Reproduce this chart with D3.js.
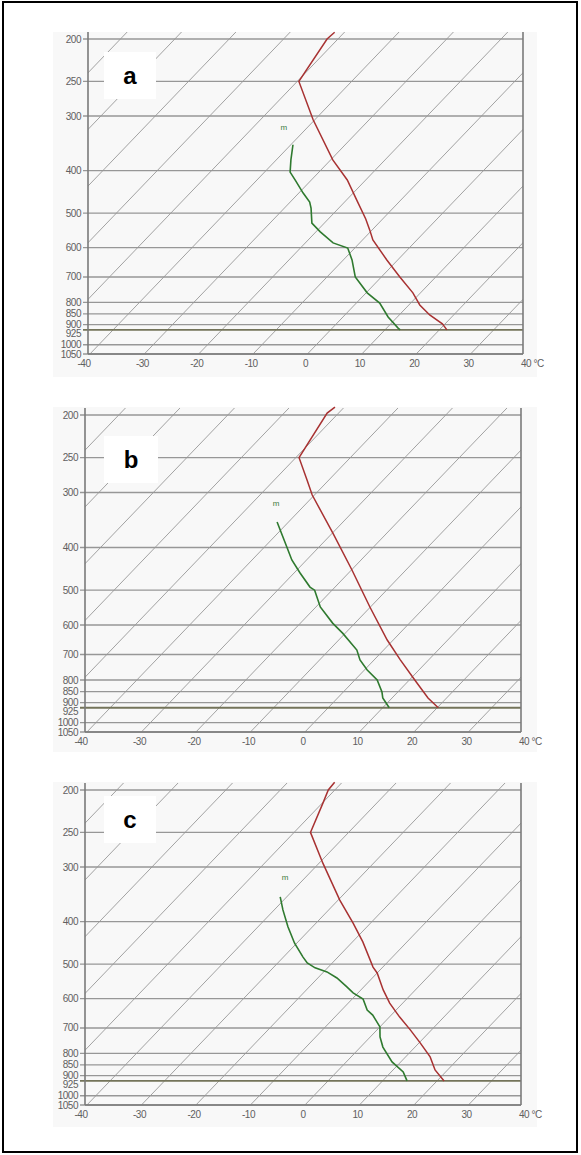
<!DOCTYPE html>
<html>
<head>
<meta charset="utf-8">
<script src="https://cdn.jsdelivr.net/npm/d3@7"></script>
<style>
  body { margin: 0; background: #fff; }
  text { font-family: "Liberation Sans", Arial, sans-serif; }
</style>
</head>
<body>
<svg id="chart" width="581" height="1155"></svg>
<script>
// pressure levels (hPa) that get a grid line and a label
const pressureTicks = [200, 250, 300, 400, 500, 600, 700, 800, 850, 900, 925, 1000, 1050];
// bottom axis labels (°C)
const tempTicks = [-40, -30, -20, -10, 0, 10, 20, 30, 40];
// skewed isotherms every 10 °C
const isotherms = [-100, -90, -80, -70, -60, -50, -40, -30, -20, -10, 0, 10, 20, 30, 40];

// sounding a : temperature and dew point (pressure hPa, temp °C)
const tempA_p = [193, 200, 250, 306, 378, 420, 467, 516, 547, 576, 640, 700, 761, 811, 855, 896, 925];
const tempA_t = [-51.8, -52.0, -49.7, -40.3, -29.6, -23.4, -18.1, -13.1, -10.4, -8.1, -2.0, 3.4, 8.6, 12.0, 15.6, 19.5, 21.4];
const dewA_p = [349, 378, 403, 420, 450, 472, 487, 527, 552, 585, 601, 640, 700, 761, 803, 864, 916, 925];
const dewA_t = [-39.6, -37.3, -35.3, -33.0, -29.2, -26.4, -25.1, -22.3, -19.2, -14.9, -11.3, -8.4, -4.8, 0.2, 4.3, 8.3, 12.1, 12.8];

// sounding b
const tempB_p = [192, 198, 250, 281, 304, 371, 450, 546, 649, 720, 800, 879, 925];
const tempB_t = [-51.7, -52.1, -49.4, -44.0, -40.4, -29.9, -19.9, -10.1, -1.1, 4.8, 11.0, 16.6, 20.2];
const dewB_p = [350, 399, 427, 457, 492, 500, 546, 594, 626, 684, 720, 759, 800, 852, 879, 925];
const dewB_t = [-42.1, -35.9, -32.7, -28.9, -24.6, -23.2, -19.2, -14.1, -10.5, -4.9, -2.6, 0.5, 4.1, 7.1, 8.3, 11.2];

// sounding c
const tempC_p = [192, 200, 214, 250, 294, 357, 403, 445, 508, 524, 573, 614, 661, 707, 757, 815, 873, 925];
const tempC_t = [-51.4, -51.2, -49.9, -47.0, -39.3, -29.7, -23.2, -18.1, -11.8, -10.0, -5.9, -2.4, 1.9, 6.1, 10.2, 14.5, 17.7, 21.3];
const dewC_p = [351, 376, 411, 448, 482, 497, 510, 521, 538, 564, 582, 601, 637, 654, 696, 734, 774, 837, 882, 925];
const dewC_t = [-41.2, -38.4, -34.5, -30.4, -26.4, -24.6, -22.3, -19.4, -16.5, -13.1, -10.9, -8.0, -5.3, -3.4, 0.0, 1.8, 4.1, 8.4, 12.2, 14.5];

// "m" marker position (pressure, temp) in each panel
const markA = [318, -44.4];
const markB = [317, -45.6];
const markC = [316, -43.8];

const panels = [
  { label: 'a', left: 88, right: 523, y200: 39, bottom: 354, bg: [53, 32, 537, 377], box: [104, 52, 52, 47], base: 84,
    temp: [tempA_p, tempA_t], dew: [dewA_p, dewA_t], mark: markA },
  { label: 'b', left: 85, right: 521, y200: 415, bottom: 732, bg: [53, 407, 537, 752], box: [104, 436, 54, 47], base: 468,
    temp: [tempB_p, tempB_t], dew: [dewB_p, dewB_t], mark: markB },
  { label: 'c', left: 85, right: 521, y200: 790, bottom: 1105, bg: [53, 782, 537, 1127], box: [104, 796, 52, 47], base: 828,
    temp: [tempC_p, tempC_t], dew: [dewC_p, dewC_t], mark: markC }
];

const svg = d3.select('#chart');

// outer frame
svg.append('rect')
  .attr('x', 3).attr('y', 2).attr('width', 574).attr('height', 1150)
  .attr('fill', 'none').attr('stroke', '#000').attr('stroke-width', 2);

panels.forEach((pn, i) => {
  const g = svg.append('g');
  const top = pn.y200 - 7;
  const x = d3.scaleLinear().domain([-40, 40]).range([pn.left, pn.right]);
  const y = d3.scaleLog().domain([200, 1050]).range([pn.y200, pn.bottom]);
  // 45 degree skew of the temperature axis
  const skew = (py) => 0.96 * (pn.bottom + 2 - py);

  // light background of the panel
  g.append('rect')
    .attr('x', pn.bg[0]).attr('y', pn.bg[1])
    .attr('width', pn.bg[2] - pn.bg[0]).attr('height', pn.bg[3] - pn.bg[1])
    .attr('fill', '#f8f8f8');

  g.append('clipPath').attr('id', 'clip' + i)
    .append('rect')
    .attr('x', pn.left).attr('y', top)
    .attr('width', pn.right - pn.left).attr('height', pn.bottom - top);

  // isotherms
  g.append('g').attr('clip-path', 'url(#clip' + i + ')')
    .selectAll('line')
    .data(isotherms)
    .enter()
    .append('line')
    .attr('x1', (t) => x(t) + skew(pn.bottom))
    .attr('y1', pn.bottom)
    .attr('x2', (t) => x(t) + skew(top))
    .attr('y2', top)
    .attr('stroke', '#8c8c8c')
    .attr('stroke-width', 0.8);

  // isobars
  g.append('g')
    .selectAll('line')
    .data(pressureTicks)
    .enter()
    .append('line')
    .attr('x1', pn.left - 5)
    .attr('x2', pn.right)
    .attr('y1', (p) => y(p))
    .attr('y2', (p) => y(p))
    .attr('stroke', (p) => (p === 925 ? '#74745a' : '#979797'))
    .attr('stroke-width', (p) => (p === 925 ? 1.8 : 1.3));

  // frame lines
  g.append('line').attr('x1', pn.left).attr('x2', pn.left).attr('y1', top).attr('y2', pn.bottom)
    .attr('stroke', '#7a7a7a').attr('stroke-width', 1.6);
  g.append('line').attr('x1', pn.right).attr('x2', pn.right).attr('y1', top).attr('y2', pn.bottom)
    .attr('stroke', '#7a7a7a').attr('stroke-width', 1.6);
  g.append('line').attr('x1', pn.left).attr('x2', pn.right).attr('y1', pn.bottom).attr('y2', pn.bottom)
    .attr('stroke', '#7a7a7a').attr('stroke-width', 1.6);

  // sounding lines
  const line = d3.line()
    .x((d) => x(d[1]) + skew(y(d[0])))
    .y((d) => y(d[0]));

  g.append('path')
    .datum(d3.zip(pn.temp[0], pn.temp[1]))
    .attr('d', line)
    .attr('fill', 'none')
    .attr('stroke', '#a83232')
    .attr('stroke-width', 1.5);

  g.append('path')
    .datum(d3.zip(pn.dew[0], pn.dew[1]))
    .attr('d', line)
    .attr('fill', 'none')
    .attr('stroke', '#2f7a2f')
    .attr('stroke-width', 1.6);

  // small "m" marker
  g.append('text')
    .attr('x', x(pn.mark[1]) + skew(y(pn.mark[0])))
    .attr('y', y(pn.mark[0]) + 3)
    .attr('text-anchor', 'middle')
    .style('font-size', '8px')
    .style('fill', '#3d7a3d')
    .text('m');

  // panel letter
  g.append('rect')
    .attr('x', pn.box[0]).attr('y', pn.box[1])
    .attr('width', pn.box[2]).attr('height', pn.box[3])
    .attr('fill', '#fff');
  g.append('text')
    .attr('x', pn.box[0] + pn.box[2] / 2)
    .attr('y', pn.base)
    .attr('text-anchor', 'middle')
    .style('font-size', '24px')
    .style('font-weight', 'bold')
    .style('fill', '#000')
    .text(pn.label);

  // pressure labels
  g.append('g').selectAll('text')
    .data(pressureTicks)
    .enter()
    .append('text')
    .attr('x', pn.left - 7)
    .attr('y', (p) => y(p) + (p === 925 ? 7 : 3.5))
    .attr('text-anchor', 'end')
    .style('font-size', '10px')
    .style('letter-spacing', '-0.5px')
    .style('fill', '#606060')
    .text((p) => p);

  // temperature labels
  g.append('g').selectAll('text')
    .data(tempTicks)
    .enter()
    .append('text')
    .attr('x', (t) => x(t) + (t === -40 ? -4 : 0) + (t === 40 ? -2 : 0))
    .attr('y', pn.bottom + 13)
    .attr('text-anchor', (t) => (t === 40 ? 'start' : 'middle'))
    .style('font-size', '10px')
    .style('letter-spacing', '-0.5px')
    .style('fill', '#606060')
    .text((t) => (t === 40 ? '40 °C' : String(t)));
});
</script>
</body>
</html>
